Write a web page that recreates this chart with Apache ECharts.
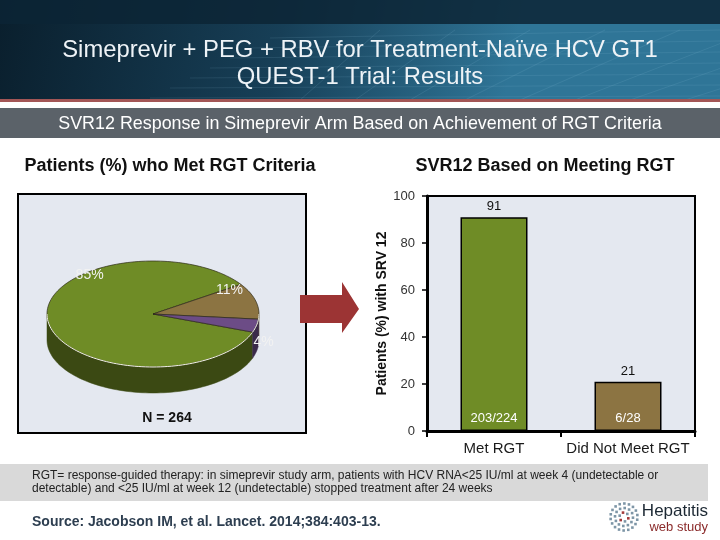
<!DOCTYPE html>
<html><head><meta charset="utf-8">
<script src="https://cdn.jsdelivr.net/npm/echarts@6/dist/echarts.min.js"></script>
<style>html,body{margin:0;padding:0;background:#fff}#c{width:720px;height:540px}</style>
</head><body><div id="c"></div>
<script>
// ---------- DATA ----------
const pieCategories = ['Met RGT', 'Did not meet RGT', 'Other'];
const pieValues = [85, 11, 4];
const pieTotalN = 264;
const barCategories = ['Met RGT', 'Did Not Meet RGT'];
const barValues = [91, 21];
const barFractions = ['203/224', '6/28'];
const yTickLabels = ['0', '20', '40', '60', '80', '100'];

// ---------- STYLE ----------
const FONT = "'Liberation Sans', Arial, sans-serif";
const pieTopColors = ['#6f8c26', '#8c7442', '#6c4c86'];
const pieSideColors = ['#3b4913', '#4b3d1f', '#3b2a4a'];
const barColors = ['#6f8c26', '#8c7442'];
const pieLayout = { cx: 153, cy: 314, rx: 106, ry: 53, depth: 26, startDeg: -20 };
const pieLabelAnchors = [[129, 0.95], [32, 0.85], [-27, 1.17]];

const pieSum = pieValues.reduce((a, b) => a + b, 0);
function sliceRange(i) {
  let start = pieLayout.startDeg;
  for (let k = 0; k < i; k++) start -= pieValues[k] / pieSum * 360;
  return [start - pieValues[i] / pieSum * 360, start]; // [lo, hi]
}
function pt(t, dy) {
  const r = t * Math.PI / 180;
  return [pieLayout.cx + pieLayout.rx * Math.cos(r), pieLayout.cy - pieLayout.ry * Math.sin(r) + (dy || 0)];
}
function arcPts(a0, a1, dy) {
  const n = Math.max(2, Math.ceil(Math.abs(a1 - a0) / 2));
  const out = [];
  for (let j = 0; j <= n; j++) out.push(pt(a0 + (a1 - a0) * j / n, dy));
  return out;
}
function frontParts(lo, hi) {
  const parts = [];
  for (let k = -2; k <= 1; k++) {
    const a = Math.max(lo, -180 + 360 * k), b = Math.min(hi, 360 * k);
    if (b > a) parts.push([a, b]);
  }
  return parts;
}

const decor = [];
// header
decor.push({ type: 'rect', z: 0, shape: { x: 0, y: 0, width: 720, height: 100 },
  style: { fill: new echarts.graphic.LinearGradient(0, 0, 0.7, 1, [
    { offset: 0, color: '#0a1f2d' }, { offset: 0.55, color: '#173f57' }, { offset: 1, color: '#2f7597' }]) } });
decor.push({ type: 'rect', z: 0, shape: { x: 0, y: 0, width: 720, height: 24 }, style: { fill: '#0c2535', opacity: 0.85 } });
// faint grid texture
for (let i = 0; i < 7; i++) {
  decor.push({ type: 'line', z: 0, shape: { x1: 150 + i * 20, y1: 98 - i * 10, x2: 720, y2: 96 - i * 11 },
    style: { stroke: '#9fd0ea', opacity: 0.12, lineWidth: 1 } });
}
for (let i = 0; i < 9; i++) {
  decor.push({ type: 'line', z: 0, shape: { x1: 300 + i * 55, y1: 100, x2: 380 + i * 75, y2: 30 },
    style: { stroke: '#9fd0ea', opacity: 0.12, lineWidth: 1 } });
}
decor.push({ type: 'rect', z: 0, shape: { x: 0, y: 99, width: 720, height: 3 }, style: { fill: '#a35656' } });
decor.push({ type: 'rect', z: 0, shape: { x: 0, y: 108, width: 720, height: 30 }, style: { fill: '#5b6269' } });
decor.push({ type: 'text', z: 5, style: { text: 'Simeprevir + PEG + RBV for Treatment-Naïve HCV GT1', x: 360, y: 50,
  textAlign: 'center', textVerticalAlign: 'middle', fill: '#eef3f7', font: '23.8px ' + FONT } });
decor.push({ type: 'text', z: 5, style: { text: 'QUEST-1 Trial: Results', x: 360, y: 77,
  textAlign: 'center', textVerticalAlign: 'middle', fill: '#eef3f7', font: '23.8px ' + FONT } });
decor.push({ type: 'text', z: 5, style: { text: 'SVR12 Response in Simeprevir Arm Based on Achievement of RGT Criteria', x: 360, y: 124,
  textAlign: 'center', textVerticalAlign: 'middle', fill: '#ffffff', font: '17.9px ' + FONT } });
// panel headings
decor.push({ type: 'text', z: 5, style: { text: 'Patients (%) who Met RGT Criteria', x: 170, y: 166,
  textAlign: 'center', textVerticalAlign: 'middle', fill: '#111', font: 'bold 18px ' + FONT } });
decor.push({ type: 'text', z: 5, style: { text: 'SVR12 Based on Meeting RGT', x: 545, y: 166,
  textAlign: 'center', textVerticalAlign: 'middle', fill: '#111', font: 'bold 18px ' + FONT } });
// pie panel
decor.push({ type: 'rect', z: 0, shape: { x: 18, y: 194, width: 288, height: 239 },
  style: { fill: '#e4e8f0', stroke: '#000', lineWidth: 2 } });
decor.push({ type: 'text', z: 5, style: { text: 'N = ' + pieTotalN, x: 167, y: 418,
  textAlign: 'center', textVerticalAlign: 'middle', fill: '#111', font: 'bold 14px ' + FONT } });
// arrow
decor.push({ type: 'polygon', z: 5, shape: { points: [[300, 295], [342, 295], [342, 282], [359, 309], [342, 333], [342, 323], [300, 323]] },
  style: { fill: '#9c3434' } });
// footnote
decor.push({ type: 'rect', z: 0, shape: { x: 0, y: 464, width: 708, height: 37 }, style: { fill: '#d9d9d9' } });
decor.push({ type: 'text', z: 5, style: { text: 'RGT= response-guided therapy: in simeprevir study arm, patients with HCV RNA<25 IU/ml at week 4 (undetectable or', x: 32, y: 476,
  textAlign: 'left', textVerticalAlign: 'middle', fill: '#222', font: '12px ' + FONT } });
decor.push({ type: 'text', z: 5, style: { text: 'detectable) and <25 IU/ml at week 12 (undetectable) stopped treatment after 24 weeks', x: 32, y: 489,
  textAlign: 'left', textVerticalAlign: 'middle', fill: '#222', font: '12px ' + FONT } });
decor.push({ type: 'text', z: 5, style: { text: 'Source: Jacobson IM, et al. Lancet. 2014;384:403-13.', x: 32, y: 522,
  textAlign: 'left', textVerticalAlign: 'middle', fill: '#2d3e50', font: 'bold 14px ' + FONT } });
// logo
for (let ring = 1; ring <= 3; ring++) {
  const n = ring * 6;
  for (let j = 0; j < n; j++) {
    const a = j / n * Math.PI * 2 + ring * 0.3;
    const r = ring * 4.5;
    const red = ring === 1 && j % 2 === 0;
    decor.push({ type: 'rect', z: 5, shape: { x: 624 + r * Math.cos(a) - 1.3, y: 517 + r * Math.sin(a) - 1.3, width: 2.6, height: 2.6 },
      style: { fill: red ? '#a33a3a' : '#7d95a6' } });
  }
}
decor.push({ type: 'text', z: 5, style: { text: 'Hepatitis', x: 708, y: 511,
  textAlign: 'right', textVerticalAlign: 'middle', fill: '#1c2833', font: '17px ' + FONT } });
decor.push({ type: 'text', z: 5, style: { text: 'web study', x: 708, y: 527,
  textAlign: 'right', textVerticalAlign: 'middle', fill: '#8b2b2b', font: '13px ' + FONT } });

const option = {
  animation: false,
  backgroundColor: '#ffffff',
  graphic: { elements: decor },
  grid: { left: 427, top: 196, width: 268, height: 235, show: true, backgroundColor: '#e4e8f0', borderColor: '#000', borderWidth: 2 },
  xAxis: {
    type: 'category', data: barCategories,
    axisLine: { lineStyle: { color: '#000', width: 3 } },
    axisTick: { show: true, length: 6, lineStyle: { color: '#000', width: 2 } },
    axisLabel: { color: '#1a1a1a', fontSize: 15, margin: 10, fontFamily: FONT, interval: 0, hideOverlap: false }
  },
  yAxis: {
    type: 'value', min: 0, max: 100, interval: 20,
    name: 'Patients (%) with SRV 12', nameLocation: 'middle', nameGap: 38, nameRotate: 90,
    nameTextStyle: { fontWeight: 'bold', fontSize: 14, color: '#111', fontFamily: FONT },
    axisLine: { show: true, lineStyle: { color: '#000', width: 3 } },
    axisTick: { show: true, length: 5, lineStyle: { color: '#000', width: 1.5 } },
    axisLabel: { color: '#333', fontSize: 13, margin: 12, fontFamily: FONT,
      formatter: (v) => yTickLabels[Math.round(v / 20)] },
    splitLine: { show: false }
  },
  series: [
    {
      type: 'bar', data: barValues.map((v, i) => ({ value: v, itemStyle: { color: barColors[i] } })),
      barWidth: '50%', z: 3,
      itemStyle: { borderColor: '#000', borderWidth: 1.5 },
      label: { show: true, position: 'top', distance: 4, color: '#111', fontSize: 13, fontFamily: FONT }
    },
    {
      type: 'bar', data: barValues, barWidth: '50%', barGap: '-100%', z: 4, silent: true,
      itemStyle: { color: 'rgba(0,0,0,0)' },
      label: { show: true, position: 'insideBottom', distance: 6, color: '#fff', fontSize: 13, fontFamily: FONT,
        formatter: (p) => barFractions[p.dataIndex] }
    },
    {
      type: 'custom', coordinateSystem: 'none', z: 2, silent: true,
      data: pieValues,
      renderItem: function (params, api) {
        const i = params.dataIndex;
        api.value(0);
        const [lo, hi] = sliceRange(i);
        const children = frontParts(lo, hi).map(([a, b]) => ({
          type: 'polygon',
          shape: { points: arcPts(a, b, 0).concat(arcPts(b, a, pieLayout.depth)) },
          style: { fill: pieSideColors[i], stroke: pieSideColors[i], lineWidth: 0.5 }
        }));
        return { type: 'group', children };
      }
    },
    {
      type: 'custom', coordinateSystem: 'none', z: 3, silent: true,
      data: pieValues,
      renderItem: function (params, api) {
        const i = params.dataIndex;
        const v = api.value(0);
        const [lo, hi] = sliceRange(i);
        const children = [{
          type: 'polygon',
          shape: { points: [[pieLayout.cx, pieLayout.cy]].concat(arcPts(hi, lo, 0)) },
          style: { fill: pieTopColors[i], stroke: '#2d2a18', lineWidth: 0.7 }
        }];
        frontParts(lo, hi).forEach(([a, b]) => {
          children.push({ type: 'polyline', shape: { points: arcPts(a, b, 0) },
            style: { stroke: '#f4f4e8', lineWidth: 1, fill: null } });
        });
        const [la, lr] = pieLabelAnchors[i];
        const rad = la * Math.PI / 180;
        children.push({ type: 'text', z2: 10, style: {
          text: v + '%',
          x: pieLayout.cx + pieLayout.rx * lr * Math.cos(rad),
          y: pieLayout.cy - pieLayout.ry * lr * Math.sin(rad),
          textAlign: 'center', textVerticalAlign: 'middle', fill: '#f2f2f2', font: '14px ' + FONT } });
        return { type: 'group', children };
      }
    }
  ]
};
const chart = echarts.init(document.getElementById('c'), null, { renderer: 'canvas' });
chart.setOption(option);
</script></body></html>
